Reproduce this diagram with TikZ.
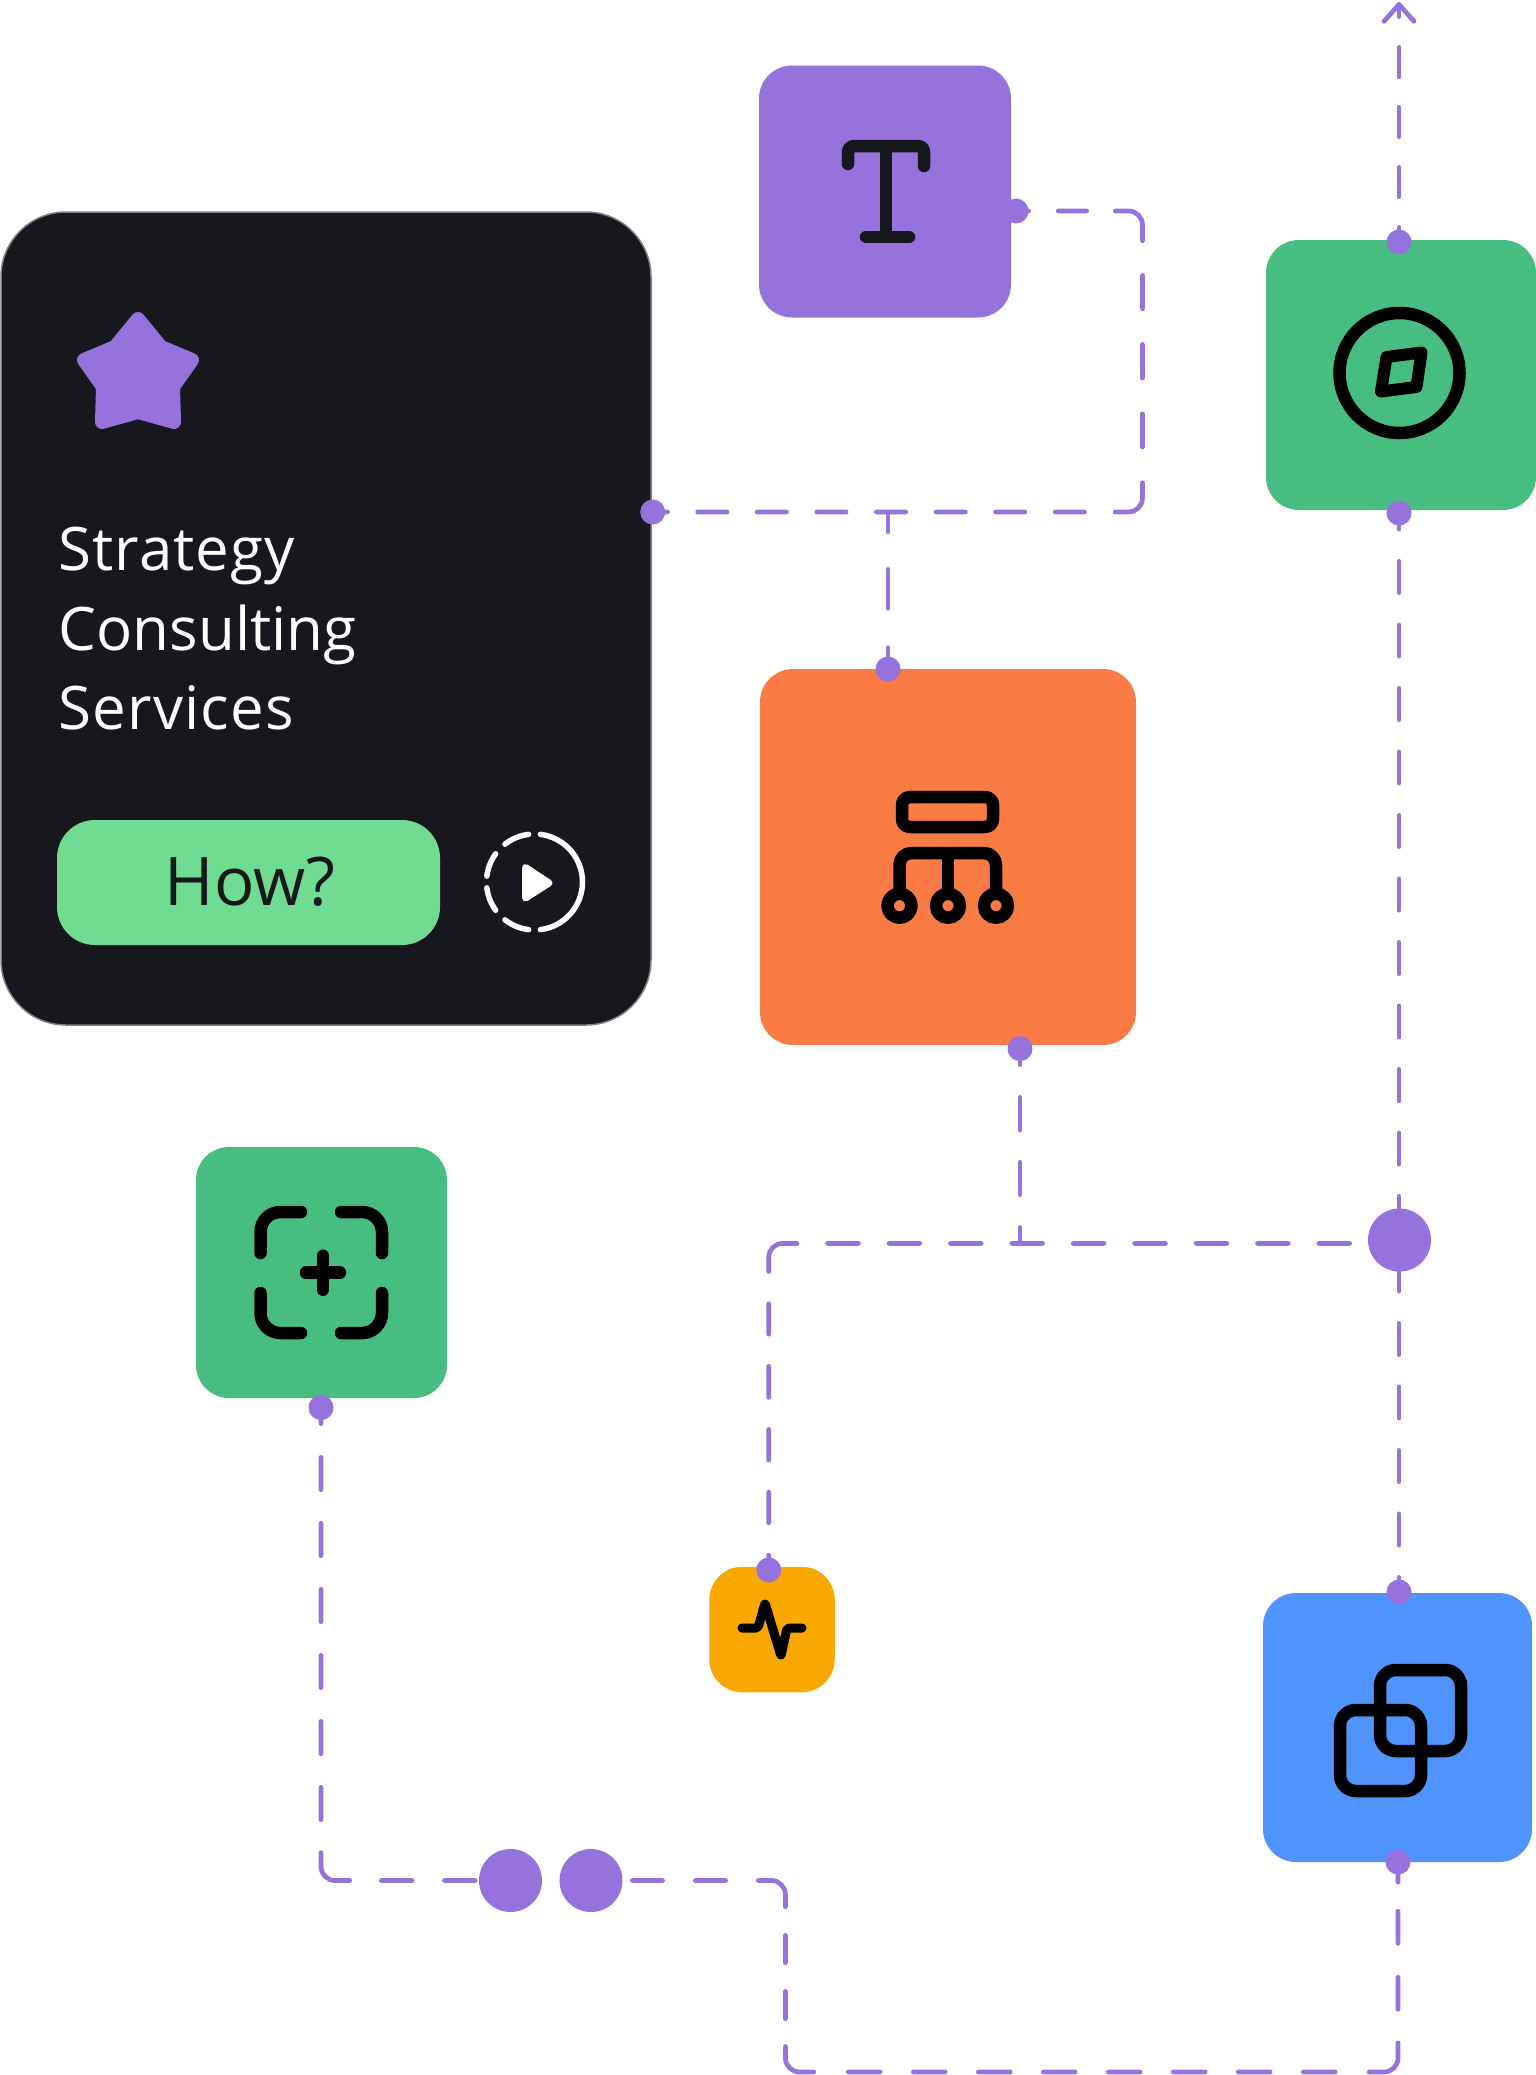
\documentclass[tikz,border=0pt]{standalone}
\usepackage{fontspec}
\setmainfont{Open Sans}
\usetikzlibrary{arrows.meta}
\definecolor{ink}{HTML}{16181D}
\definecolor{violet}{HTML}{9572DC}
\definecolor{leaf}{HTML}{48BD82}
\definecolor{mint}{HTML}{70DC92}
\definecolor{tangerine}{HTML}{FB7B44}
\definecolor{amber}{HTML}{F8A800}
\definecolor{azure}{HTML}{4F94FD}
\begin{document}
\begin{tikzpicture}[x=1pt, y=-1pt,
    tile/.style = {rectangle, rounded corners=33pt, inner sep=0pt},
    dot/.style = {circle, fill=violet, inner sep=0pt, minimum size=25pt},
    bigdot/.style = {circle, fill=violet, inner sep=0pt, minimum size=63pt},
    flow/.style = {draw=violet, line width=4.7pt, line cap=round, rounded corners=14pt},
    glyph/.style = {draw=black, line width=12.5pt, line cap=round, line join=round},
    cardtext/.style = {anchor=base west, inner sep=0pt, text=white, font=\fontsize{60}{60}\selectfont}]
    \useasboundingbox (0,0) rectangle (1536,2075);

    \node[tile, draw=gray, line width=1.5pt, fill=ink, rounded corners=65pt, minimum width=650pt, minimum height=813pt] (card) at (326,618.5) {};
    \node[tile, fill=violet, minimum size=252pt] (tbox) at (885,191.5) {};
    \node[tile, fill=leaf, minimum size=270pt] (compass) at (1401,375) {};
    \node[tile, fill=tangerine, minimum size=376pt] (tree) at (948,857) {};
    \node[tile, fill=leaf, minimum size=251pt] (focus) at (321.5,1272.5) {};
    \node[tile, fill=amber, minimum size=125.5pt] (pulse) at (772,1629.5) {};
    \node[tile, fill=azure, minimum size=269pt] (layers) at (1397.5,1727.5) {};

    \node[tile, fill=mint, rounded corners=38pt, minimum width=383pt, minimum height=125pt] (how) at (248.5,882.5) {};
    \node[text=ink, font=\fontsize{67}{67}\selectfont] (howtext) at (250,882) {How?};
    \node[cardtext] (line1) at (58.5,570) {\addfontfeature{LetterSpace=1.7}Strategy};
    \node[cardtext] (line2) at (58.5,650) {Consulting};
    \node[cardtext] (line3) at (58.5,729) {\addfontfeature{LetterSpace=1.9}Services};

    \node[dot] (carddot) at (652.7,512) {};
    \node[dot] (tdot) at (1016,211) {};
    \node[dot] (treetop) at (888,669) {};
    \node[dot] (treebot) at (1020,1048.6) {};
    \node[dot] (comptop) at (1399,242) {};
    \node[dot] (compbot) at (1399,513) {};
    \node[dot] (focusdot) at (321,1407.5) {};
    \node[dot] (pulsedot) at (768.7,1570) {};
    \node[dot] (laytop) at (1399,1592) {};
    \node[dot] (laybot) at (1398,1862) {};
    \node[bigdot] (hub) at (1399.5,1240) {};
    \node[bigdot] (left) at (510.5,1880.5) {};
    \node[bigdot] (right) at (591,1880.5) {};

    \coordinate (top) at (1399,2);
    \coordinate (a1) at (1142.5,512);
    \coordinate (a2) at (1142.5,211);
    \coordinate (b1) at (888,512);
    \coordinate (c1) at (768.7,1243.4);
    \coordinate (c2) at (1020,1243.4);
    \coordinate (d1) at (321,1880.5);
    \coordinate (e1) at (785.4,1880.5);
    \coordinate (e2) at (785.4,2072);
    \coordinate (e3) at (1398,2072);

    \draw[flow, dash pattern=on 29.3pt off 30.7pt, dash phase=14.65pt, -{Straight Barb[length=17pt, width=30pt, round]}] (comptop.center) -- (top);
    \draw[flow, dash pattern=on 12.65pt off 29.7pt on 28.3pt off 28.7pt on 50.8pt off 34.7pt on 33.3pt off 35.7pt on 33.7pt off 35.7pt on 33.2pt off 35.7pt on 50.45pt off 30.7pt
        on 29.3pt off 30.3pt on 29.3pt off 30.3pt on 29.3pt off 30.3pt on 29.3pt off 30.3pt on 29.3pt off 30.3pt on 29.3pt off 30.3pt on 29.3pt off 30.1pt on 40pt off 40pt] (tdot.center) -- (a2) -- (a1) -- (carddot.center);
    \draw[flow, dash pattern=on 19.65pt off 37.7pt on 39pt off 39.3pt on 40pt off 40pt] (b1) -- (treetop.center);
    \draw[flow, dash pattern=on 31.3pt off 32.2pt, dash phase=15.15pt] (compbot.center) -- (laytop.center);
    \draw[flow, dash pattern=on 20pt off 29.85pt on 30.8pt off 30.6pt on 30.8pt off 30.6pt on 30.8pt off 30.6pt on 30.8pt off 30.6pt on 30.8pt off 30.6pt on 30.8pt off 30.6pt on 30.8pt off 30.6pt on 30.8pt off 30.6pt on 30.8pt off 30.7pt
        on 50.25pt off 32.3pt on 30.5pt off 32.1pt on 31pt off 32pt on 30.7pt off 32pt on 30.7pt off 32.3pt on 40pt off 40pt] (hub.center |- c1) -- (c1) -- (pulsedot.center);
    \draw[flow, dash pattern=on 16pt off 32.75pt on 32.7pt off 32.3pt on 32.3pt off 32.7pt on 40pt off 40pt] (treebot.center) -- (c2);
    \draw[flow, dash pattern=on 16.15pt off 33.7pt on 32.3pt off 33.7pt on 32.3pt off 33.7pt on 32.3pt off 33.7pt on 32.3pt off 33.7pt on 32.3pt off 33.7pt on 32.3pt off 33pt
        on 50.5pt off 31.6pt on 30.7pt off 32.4pt on 30.6pt off 60pt] (focusdot.center) -- (d1) -- (left.center);
    \draw[flow, dash pattern=on 20pt off 21.35pt on 30.3pt off 32.7pt on 30.3pt off 32.7pt on 47.2pt off 28.7pt on 27.3pt off 28.7pt on 27.3pt off 27.7pt on 47.9pt off 34.5pt
        on 31.85pt off 33.15pt on 31.85pt off 33.15pt on 31.85pt off 33.15pt on 31.85pt off 33.15pt on 31.85pt off 33.15pt on 31.85pt off 33.15pt on 31.85pt off 33.15pt on 31.85pt off 34pt
        on 51.85pt off 33.65pt on 32pt off 34pt on 32pt off 29pt on 40pt off 40pt] (right.center) -- (e1) -- (e2) -- (e3) -- (laybot.center);

    % star
    \draw[fill=violet, draw=violet, line width=14pt, line join=round] (138,319) -- (161,347) -- (192,360) -- (173,387) -- (174,422) -- (138,412) -- (102,422) -- (103,387) -- (84,360) -- (115,347) -- cycle;
    % play
    \draw[white, line width=5.5pt, line cap=round] (534.5,882) ++(83:48) arc[start angle=83, end angle=-83, radius=48];
    \foreach \from/\to in {97/128, 144/173, 187/216, 232/263}
        \draw[white, line width=5.5pt, line cap=round] (534.5,882) ++(\from:48) arc[start angle=\from, end angle=\to, radius=48];
    \draw[fill=white, draw=white, line width=7pt, line join=round] (525.5,867.5) -- (549,883) -- (525.5,898) -- cycle;

    % T
    \draw[glyph, draw=ink, rounded corners=6pt] (848,164) -- (848,146) -- (924,146) -- (924,166);
    \draw[glyph, draw=ink, line cap=butt] (886,146) -- (886,237);
    \draw[glyph, draw=ink] (866,237) -- (909,237);
    % compass
    \draw[glyph] (1399.5,373) circle[radius=60];
    \draw[glyph, line width=12pt] (1421.5,352.5) -- (1386.5,357) -- (1381,391.5) -- (1416.5,387) -- cycle;
    % tree
    \draw[glyph, rounded corners=8pt] (902,797) rectangle (993,827);
    \draw[glyph, rounded corners=12pt, line cap=butt] (899.5,893) -- (899.5,853) -- (996,853) -- (996,893);
    \draw[glyph, line cap=butt] (948,853) -- (948,893);
    \foreach \xpos in {899.5, 948, 996}
        \draw[glyph] (\xpos,905.7) circle[radius=12];
    % focus
    \draw[glyph, rounded corners=20pt] (260.5,1253) -- (260.5,1212) -- (301,1212);
    \draw[glyph, rounded corners=20pt] (341,1212) -- (382,1212) -- (382,1253);
    \draw[glyph, rounded corners=20pt] (260.5,1293) -- (260.5,1333) -- (301,1333);
    \draw[glyph, rounded corners=20pt] (341,1333) -- (382,1333) -- (382,1293);
    \draw[glyph] (306,1272.7) -- (340,1272.7);
    \draw[glyph] (323,1255.7) -- (323,1289.7);
    % pulse
    \draw[glyph, line width=9pt, rounded corners=2pt] (742,1628) -- (758,1628) -- (765,1603) -- (781,1656) -- (787,1628) -- (802,1628);
    % layers
    \draw[glyph, rounded corners=16pt] (1380,1670) rectangle (1461,1751);
    \draw[glyph, rounded corners=16pt] (1340,1710) rectangle (1421,1791);
\end{tikzpicture}
\end{document}
